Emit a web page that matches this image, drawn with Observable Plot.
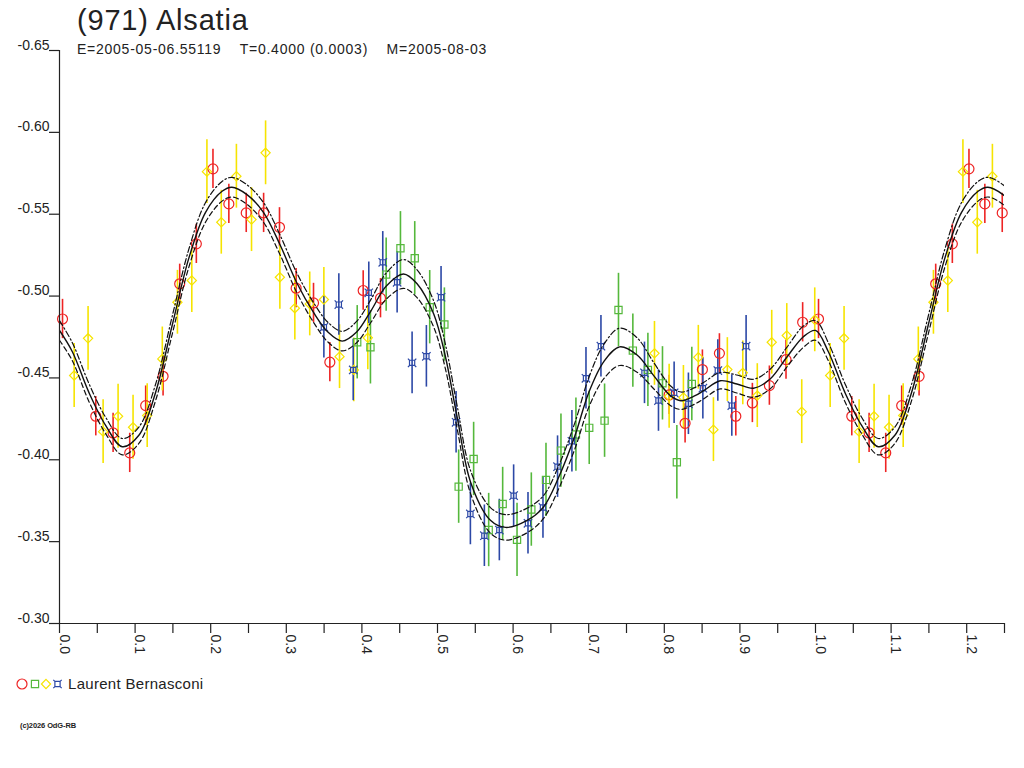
<!DOCTYPE html>
<html><head><meta charset="utf-8">
<script src="https://cdn.jsdelivr.net/npm/d3@7"></script>
<script src="https://cdn.jsdelivr.net/npm/@observablehq/plot@0.6"></script>
<style>
body{margin:0;background:#fff;font-family:"Liberation Sans",Arial,sans-serif;color:#222}
#wrap{position:relative;width:1024px;height:768px;overflow:hidden}
#chart{position:absolute;left:0;top:0}
.title{position:absolute;left:77px;top:3px;font-size:29px;line-height:34px;letter-spacing:0.8px}
.sub{position:absolute;left:77px;top:40px;font-size:14px;line-height:18px;white-space:pre;letter-spacing:0.75px}
.legend{position:absolute;left:14px;top:675px;font-size:15px;line-height:18px;display:flex;align-items:center;letter-spacing:0.3px}
.legend span{margin-left:2px}
.copy{position:absolute;left:20px;top:721px;font-size:7.5px;font-weight:bold;letter-spacing:-0.1px}
</style></head><body>
<div id="wrap">
<div id="chart"></div>
<div class="title">(971) Alsatia</div>
<div class="sub">E=2005-05-06.55119    T=0.4000 (0.0003)    M=2005-08-03</div>
<div class="legend"><svg id="leg" width="52" height="18"></svg><span>Laurent Bernasconi</span></div>
<div class="copy">(c)2026 OdG-RB</div>
</div>
<script>
// ---- data: [phase, reduced magnitude] ----
const red = [[0.004,-0.486],[0.048,-0.4266],[0.0709,-0.4164],[0.0929,-0.4042],[0.114,-0.4331],[0.137,-0.451],
  [0.159,-0.5075],[0.181,-0.5319],[0.203,-0.5777],[0.224,-0.5563],[0.247,-0.5508],[0.270,-0.5508],[0.291,-0.542],
  [0.313,-0.5048],[0.336,-0.4958],[0.3576,-0.4596],[0.4017,-0.5034],[0.4246,-0.4987],[0.8064,-0.4396],[0.8275,-0.4223],
  [0.8504,-0.4551],[0.8729,-0.465],[0.8946,-0.4266],[0.9165,-0.4347],[0.939,-0.4453],[0.961,-0.4612],[0.983,-0.484]];
const redErr = 0.012;
const green = [[0.3938,-0.4718],[0.4113,-0.4687],[0.4321,-0.5131],[0.451,-0.5292],[0.4699,-0.5231],[0.4897,-0.4932],
  [0.5091,-0.4826],[0.528,-0.3836],[0.5478,-0.4005],[0.5677,-0.3571],[0.5862,-0.373],[0.6052,-0.3511],[0.6241,-0.3696],
  [0.6435,-0.3877],[0.6633,-0.4056],[0.6831,-0.4154],[0.7007,-0.4195],[0.721,-0.4239],[0.7394,-0.4915],[0.7584,-0.4667],
  [0.7783,-0.4549],[0.7976,-0.4467],[0.8166,-0.3985],[0.8364,-0.4463]];
const greenErr = 0.0224;
const yellow = [[0.0194,-0.4515],[0.0378,-0.4742],[0.0577,-0.4172],[0.0775,-0.4266],[0.0973,-0.4199],[0.116,-0.427],
  [0.136,-0.4616],[0.156,-0.4962],[0.175,-0.5095],[0.195,-0.576],[0.214,-0.5451],[0.234,-0.5732],[0.254,-0.5467],
  [0.2726,-0.5875],[0.2915,-0.5115],[0.3113,-0.4926],[0.331,-0.4952],[0.3497,-0.4979],[0.3704,-0.463],[0.3893,-0.4549],
  [0.4078,-0.4745],[0.787,-0.465],[0.8064,-0.4388],[0.8253,-0.4381],[0.845,-0.4626],[0.865,-0.4184],[0.8834,-0.4551],
  [0.9038,-0.4531],[0.923,-0.4392],[0.9421,-0.4718],[0.962,-0.4759],[0.9818,-0.4294],[0.999,-0.4855]];
const yellowErr = 0.0195;
const blue = [[0.3497,-0.481],[0.3695,-0.4948],[0.3885,-0.4549],[0.4091,-0.502],[0.4276,-0.5206],[0.4466,-0.5084],
  [0.4664,-0.4592],[0.4853,-0.4632],[0.5047,-0.4993],[0.5246,-0.4229],[0.5435,-0.3669],[0.562,-0.3536],[0.5818,-0.3571],
  [0.6007,-0.3781],[0.6197,-0.3612],[0.6395,-0.3709],[0.6588,-0.3958],[0.6778,-0.4113],[0.6964,-0.4498],[0.7162,-0.4694],
  [0.7738,-0.4531],[0.7923,-0.4362],[0.813,-0.4409],[0.8319,-0.4342],[0.851,-0.4437],[0.8708,-0.4545],[0.8893,-0.4331],
  [0.9082,-0.4694]];
const blueErr = 0.0188;
// fitted curve: [phase, magnitude, half-width of the uncertainty band]
const curve = [[0.000,-0.479,0.006],[0.017,-0.466,0.0055],[0.039,-0.441,0.0055],[0.061,-0.421,0.005],[0.083,-0.408,0.005],
  [0.105,-0.415,0.005],[0.127,-0.441,0.005],[0.149,-0.482,0.0055],[0.171,-0.523,0.0055],[0.193,-0.551,0.006],
  [0.215,-0.564,0.006],[0.228,-0.5665,0.006],[0.248,-0.562,0.006],[0.270,-0.551,0.006],[0.292,-0.531,0.006],
  [0.314,-0.508,0.006],[0.336,-0.490,0.006],[0.355,-0.478,0.006],[0.374,-0.4725,0.006],[0.393,-0.478,0.0065],
  [0.412,-0.491,0.007],[0.432,-0.506,0.008],[0.455,-0.5135,0.0088],[0.473,-0.5075,0.0085],[0.495,-0.489,0.008],
  [0.510,-0.464,0.0075],[0.526,-0.426,0.007],[0.544,-0.386,0.007],[0.570,-0.363,0.0078],[0.590,-0.3587,0.0078],
  [0.618,-0.3628,0.0075],[0.640,-0.371,0.007],[0.660,-0.389,0.007],[0.682,-0.415,0.008],[0.700,-0.441,0.009],
  [0.720,-0.460,0.0105],[0.741,-0.469,0.0114],[0.764,-0.464,0.0105],[0.786,-0.4514,0.008],[0.808,-0.4392,0.006],
  [0.822,-0.4361,0.0053],[0.840,-0.439,0.005],[0.852,-0.4422,0.005],[0.874,-0.4483,0.005],[0.896,-0.4463,0.0055],
  [0.918,-0.4437,0.0055],[0.940,-0.4493,0.006],[0.962,-0.4626,0.006],[0.984,-0.4752,0.0065],[1.000,-0.479,0.006]];
const xTickValues = [0,0.05,0.1,0.15,0.2,0.25,0.3,0.35,0.4,0.45,0.5,0.55,0.6,0.65,0.7,0.75,0.8,0.85,0.9,0.95,1.0,1.05,1.1,1.15,1.2,1.25];
const xLabelValues = [0,0.1,0.2,0.3,0.4,0.5,0.6,0.7,0.8,0.9,1.0,1.1,1.2];
const yTickValues = [-0.65,-0.60,-0.55,-0.50,-0.45,-0.40,-0.35,-0.30];
const observer = "Laurent Bernasconi";

const colors = {red:"#ee2424", green:"#55b83c", yellow:"#f6e400", blue:"#2c48a6"};

// phase is shown from 0 to 1.25: points with phase < 0.25 are repeated one period later
function rows(pts, err){
  const out = pts.map(([p,m]) => ({p, m, err}));
  pts.forEach(([p,m]) => { if (p < 0.25) out.push({p: p+1, m, err}); });
  return out;
}
const R = rows(red, redErr), G = rows(green, greenErr), Y = rows(yellow, yellowErr), B = rows(blue, blueErr);
const C = curve.map(([p,m,b]) => ({p,m,b}));
curve.forEach(([p,m,b]) => { if (p > 0 && p <= 0.28) C.push({p: p+1, m, b}); });

// symbols
const symSquare = {draw(c, size){ const h = Math.sqrt(size/Math.PI); c.rect(-h,-h,2*h,2*h); }};
const symDiamond = {draw(c, size){ const r = Math.sqrt(size/Math.PI); c.moveTo(0,-r); c.lineTo(r,0); c.lineTo(0,r); c.lineTo(-r,0); c.closePath(); }};
const symStar = {draw(c, size){ const r = Math.sqrt(size/Math.PI); const h = r*0.62;
  c.rect(-h,-h,2*h,2*h);
  for (const [sx,sy] of [[1,1],[1,-1],[-1,1],[-1,-1]]) { c.moveTo(sx*h, sy*h); c.lineTo(sx*r, sy*r); } }};

function errBars(data, color){
  return Plot.ruleX(data, {x:"p", y1: d => d.m - d.err, y2: d => d.m + d.err, stroke: color, strokeWidth: 1.6});
}

const plot = Plot.plot({
  width: 1024, height: 768,
  marginLeft: 59, marginRight: 20, marginTop: 50, marginBottom: 145,
  style: {fontFamily: "Liberation Sans, Arial, sans-serif", fontSize: "14px", color: "#222", background: "transparent"},
  x: {domain: [0, 1.25]},
  y: {domain: [-0.30, -0.65]},
  marks: [
    errBars(R, colors.red), errBars(G, colors.green), errBars(Y, colors.yellow), errBars(B, colors.blue),
    Plot.dot(R, {x:"p", y:"m", r:5, symbol:"circle", fill:"none", stroke: colors.red, strokeWidth:1.2}),
    Plot.dot(G, {x:"p", y:"m", r:3.6, symbol: symSquare, fill:"none", stroke: colors.green, strokeWidth:1.2}),
    Plot.dot(Y, {x:"p", y:"m", r:4.6, symbol: symDiamond, fill:"none", stroke: colors.yellow, strokeWidth:1.2}),
    Plot.dot(B, {x:"p", y:"m", r:4.2, symbol: symStar, fill:"none", stroke: colors.blue, strokeWidth:1.2}),
    Plot.line(C, {x:"p", y: d => d.m - d.b, stroke:"#111", strokeWidth:1.2, strokeDasharray:"6,2.5,1.5,2.5", curve:"catmull-rom", clip:true}),
    Plot.line(C, {x:"p", y: d => d.m + d.b, stroke:"#111", strokeWidth:1.2, strokeDasharray:"5,3", curve:"catmull-rom", clip:true}),
    Plot.line(C, {x:"p", y:"m", stroke:"#111", strokeWidth:1.4, curve:"catmull-rom", clip:true}),
    Plot.ruleX([0], {stroke:"#222", strokeWidth:1.2}),
    Plot.ruleY([-0.30], {stroke:"#222", strokeWidth:1.2}),
    Plot.axisX(xTickValues, {tickSize:10, tickFormat: () => "", label:null, stroke:"#222", strokeWidth:1.2}),
    Plot.axisY(yTickValues, {tickSize:10, tickFormat: () => "", label:null, stroke:"#222", strokeWidth:1.2}),
    Plot.text(xLabelValues, {x: d => d, text: d => d.toFixed(1), frameAnchor:"bottom", rotate:90, textAnchor:"start", lineAnchor:"bottom", dy:11, dx:0, fontSize:14, fill:"#222"}),
    Plot.text(yTickValues, {y: d => d, text: d => d.toFixed(2), frameAnchor:"left", textAnchor:"end", lineAnchor:"bottom", dx:-10, dy:-1, fontSize:14, fill:"#222"})
  ]
});
document.getElementById("chart").appendChild(plot);

// legend symbols
const leg = d3.select("#leg");
const legItems = [
  {type: d3.symbolCircle, r:5, color: colors.red, x:8},
  {type: symSquare, r:3.6, color: colors.green, x:21},
  {type: symDiamond, r:4.6, color: colors.yellow, x:32},
  {type: symStar, r:4.2, color: colors.blue, x:43.5}
];
for (const it of legItems) {
  leg.append("path").attr("d", d3.symbol(it.type, Math.PI*it.r*it.r)()).attr("transform", `translate(${it.x},9)`)
    .attr("fill","none").attr("stroke", it.color).attr("stroke-width",1.2);
}
document.querySelector(".legend span").textContent = observer;
</script>
</body></html>
